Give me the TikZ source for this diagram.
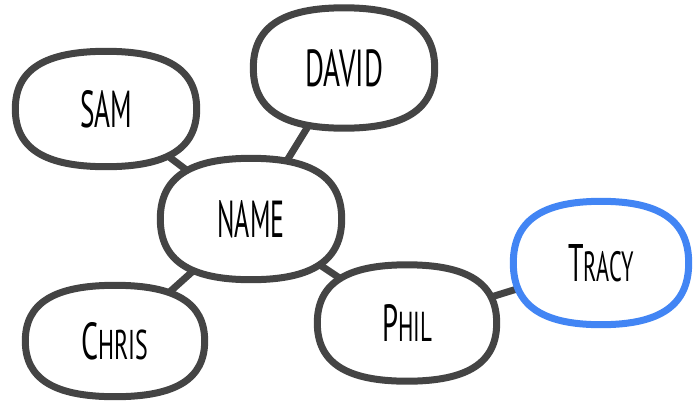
\documentclass[tikz,border=0pt]{standalone}
\usepackage{graphicx}
\usepackage{fontspec}
\setmainfont{PT Sans}
\usepackage{tikz}
\usetikzlibrary{backgrounds,calc}

\definecolor{ink}{HTML}{444444}
\definecolor{pick}{HTML}{4285F4}
\newcommand{\word}[2]{\resizebox{#1}{37pt}{\fontsize{40pt}{44pt}\selectfont #2}}
\newcommand{\sm}[1]{{\fontsize{32pt}{36pt}\selectfont #1}}

\begin{document}
\begin{tikzpicture}[blob/.style={inner sep=0pt},
  rim/.style={line width=7pt,fill=white},
  link/.style={draw=ink,line width=7pt}]
  \useasboundingbox (0pt,0pt) rectangle (696pt,-407pt);
  \draw (106pt, -109pt)node[blob, minimum width=181pt, minimum height=115pt](sam){\word{52pt}{SAM}};
  \draw (344pt, -68pt)node[blob, minimum width=181pt, minimum height=120pt](david){\word{78pt}{DAVID}};
  \draw (251pt, -219pt)node[blob, minimum width=181pt, minimum height=121pt](name){\word{67pt}{NAME}};
  \draw (115pt, -341pt)node[blob, minimum width=179pt, minimum height=111pt](chris){\word{67pt}{C\sm{HRIS}}};
  \draw (407pt, -323pt)node[blob, minimum width=179pt, minimum height=116pt](phil){\word{50pt}{P\sm{HIL}}};
  \draw (601pt, -263pt)node[blob, minimum width=175pt, minimum height=123pt](tracy){\word{65pt}{T\sm{RACY}}};
  \begin{scope}[on background layer]
  \path[link] (sam.center) edge (name.center);
  \path[link] (david.center) edge (name.center);
  \path[link] (name.center) edge (chris.center);
  \path[link] (name.center) edge (phil.center);
  \path[link] (phil.center) edge (tracy.center);
  % hand-drawn outlines
  \foreach \n/\c in {sam/ink,david/ink,name/ink,chris/ink,phil/ink,tracy/pick}
    \draw[rim, draw=\c] (\n.east)
      .. controls ($(\n.east)!0.68!(\n.north east)$) and ($(\n.north)!0.68!(\n.north east)$) .. (\n.north)
      .. controls ($(\n.north)!0.68!(\n.north west)$) and ($(\n.west)!0.68!(\n.north west)$) .. (\n.west)
      .. controls ($(\n.west)!0.68!(\n.south west)$) and ($(\n.south)!0.68!(\n.south west)$) .. (\n.south)
      .. controls ($(\n.south)!0.68!(\n.south east)$) and ($(\n.east)!0.68!(\n.south east)$) .. (\n.east) -- cycle;
  \end{scope}
\end{tikzpicture}
\end{document}
